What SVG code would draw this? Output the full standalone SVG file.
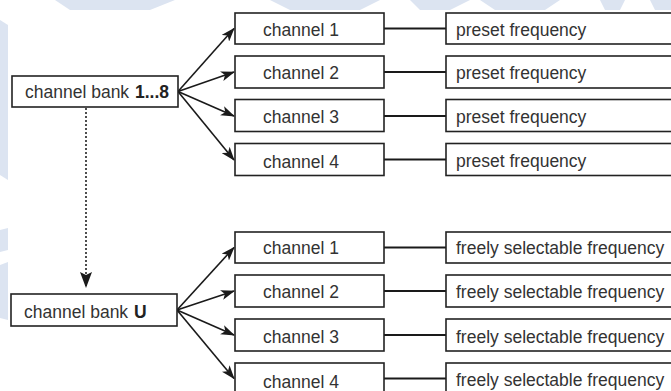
<svg xmlns="http://www.w3.org/2000/svg" width="671" height="391" viewBox="0 0 671 391">
  <defs>
    <marker id="arr" viewBox="0 0 14 10" refX="13" refY="5" markerWidth="14" markerHeight="10" markerUnits="userSpaceOnUse" orient="auto">
      <path d="M0,0 L14,5 L0,10 L3.5,5 z" fill="#1a1a1a"/>
    </marker>
    <marker id="arrd" viewBox="0 0 12 16" refX="6" refY="15" markerWidth="12" markerHeight="16" markerUnits="userSpaceOnUse" orient="0">
      <path d="M0,0 L6,3 L12,0 L6,16 z" fill="#1a1a1a"/>
    </marker>
  </defs>
  <style>
    .box { fill: #ffffff; stroke: #222222; stroke-width: 1.6; }
    .t { font-family: "Liberation Sans", Arial, sans-serif; font-size: 17.5px; fill: #333333; }
    .b { font-weight: bold; fill: #222222; }
    .link { stroke: #1a1a1a; stroke-width: 1.8; fill: none; }
    .arrow { stroke: #1a1a1a; stroke-width: 1.6; fill: none; marker-end: url(#arr); }
    .dot { stroke: #222222; stroke-width: 1.6; stroke-dasharray: 2 2; fill: none; marker-end: url(#arrd); }
    .wm { fill: #dce4f1; }
  </style>

  <!-- faint watermark background -->
  <rect x="0" y="0" width="671" height="391" fill="#ffffff"/>
  <polygon class="wm" points="55,0 175,0 150,10 70,10"/>
  <polygon class="wm" points="270,0 380,0 360,10 290,10"/>
  <polygon class="wm" points="410,0 470,0 450,10 420,10"/>
  <polygon class="wm" points="480,0 560,0 545,10 495,10"/>
  <polygon class="wm" points="600,0 625,0 620,10 605,10"/>
  <polygon class="wm" points="650,0 671,0 671,10 655,10"/>
  <polygon class="wm" points="0,20 8,25 8,180 0,175"/>
  <polygon class="wm" points="0,230 8,228 8,250 0,252"/>
  <polygon class="wm" points="0,265 8,262 8,320 0,318"/>
  <rect x="8" y="10" width="663" height="381" fill="#ffffff"/>

  <g id="connectors">
    <line class="arrow" x1="178" y1="91.5" x2="234" y2="28.5"/>
    <line class="arrow" x1="178" y1="91.5" x2="234" y2="72"/>
    <line class="arrow" x1="178" y1="91.5" x2="234" y2="116"/>
    <line class="arrow" x1="178" y1="91.5" x2="234" y2="160"/>
    <line class="arrow" x1="177" y1="310" x2="234" y2="247.5"/>
    <line class="arrow" x1="177" y1="310" x2="234" y2="291"/>
    <line class="arrow" x1="177" y1="310" x2="234" y2="335"/>
    <line class="arrow" x1="177" y1="310" x2="234" y2="378.5"/>
    <line class="dot" x1="86" y1="108" x2="86" y2="287"/>
    <line class="link" x1="384" y1="28.5" x2="446" y2="28.5"/>
    <line class="link" x1="384" y1="72" x2="446" y2="72"/>
    <line class="link" x1="384" y1="116" x2="446" y2="116"/>
    <line class="link" x1="384" y1="159.5" x2="446" y2="159.5"/>
    <line class="link" x1="384" y1="247.5" x2="446" y2="247.5"/>
    <line class="link" x1="384" y1="291" x2="446" y2="291"/>
    <line class="link" x1="384" y1="335" x2="446" y2="335"/>
    <line class="link" x1="384" y1="378.5" x2="446" y2="378.5"/>
  </g>

  <g id="bank18">
    <rect class="box" x="12" y="76" width="166" height="31"/>
    <text class="t" x="25" y="97.5">channel bank <tspan class="b" dx="1">1...8</tspan></text>
  </g>
  <g id="bankU">
    <rect class="box" x="11" y="294" width="166" height="32"/>
    <text class="t" x="24" y="317.5">channel bank <tspan class="b" dx="1">U</tspan></text>
  </g>

  <g id="top-ch1"><rect class="box" x="235" y="13" width="149" height="31"/><text class="t" x="263" y="35.5">channel 1</text></g>
  <g id="top-ch2"><rect class="box" x="235" y="56" width="149" height="32"/><text class="t" x="263" y="79.3">channel 2</text></g>
  <g id="top-ch3"><rect class="box" x="235" y="99.5" width="149" height="32"/><text class="t" x="263" y="123.3">channel 3</text></g>
  <g id="top-ch4"><rect class="box" x="235" y="143.5" width="149" height="32"/><text class="t" x="263" y="168.3">channel 4</text></g>

  <g id="top-f1"><rect class="box" x="446" y="13" width="240" height="31"/><text class="t" x="456" y="35.5">preset frequency</text></g>
  <g id="top-f2"><rect class="box" x="446" y="56" width="240" height="32"/><text class="t" x="456" y="79.3">preset frequency</text></g>
  <g id="top-f3"><rect class="box" x="446" y="99.5" width="240" height="32"/><text class="t" x="456" y="123.3">preset frequency</text></g>
  <g id="top-f4"><rect class="box" x="446" y="143.5" width="240" height="32"/><text class="t" x="456" y="166.7">preset frequency</text></g>

  <g id="bot-ch1"><rect class="box" x="235" y="232" width="149" height="31"/><text class="t" x="263" y="254.3">channel 1</text></g>
  <g id="bot-ch2"><rect class="box" x="235" y="275" width="149" height="32"/><text class="t" x="263" y="298">channel 2</text></g>
  <g id="bot-ch3"><rect class="box" x="235" y="319" width="149" height="32"/><text class="t" x="263" y="342.7">channel 3</text></g>
  <g id="bot-ch4"><rect class="box" x="235" y="363" width="149" height="34"/><text class="t" x="263" y="388">channel 4</text></g>

  <g id="bot-f1"><rect class="box" x="446" y="232" width="240" height="31"/><text class="t" x="456" y="254">freely selectable frequency</text></g>
  <g id="bot-f2"><rect class="box" x="446" y="275" width="240" height="32"/><text class="t" x="456" y="298">freely selectable frequency</text></g>
  <g id="bot-f3"><rect class="box" x="446" y="319" width="240" height="32"/><text class="t" x="456" y="342.7">freely selectable frequency</text></g>
  <g id="bot-f4"><rect class="box" x="446" y="363" width="240" height="34"/><text class="t" x="456" y="385.7">freely selectable frequency</text></g>
</svg>
